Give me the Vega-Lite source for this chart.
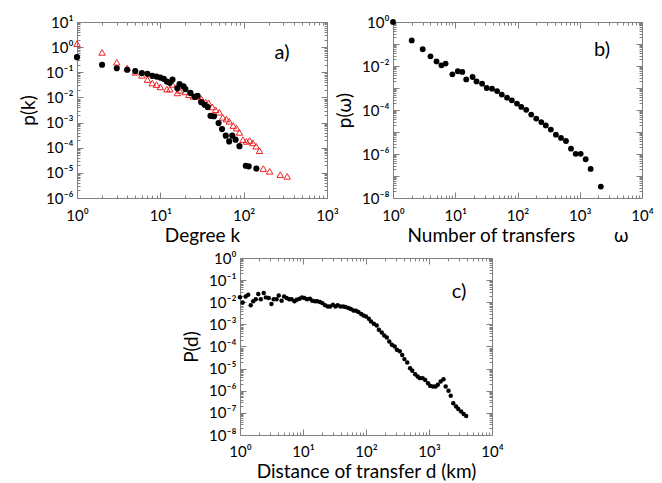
{
  "$schema": "https://vega.github.io/schema/vega-lite/v6.json",
  "padding": {"left": 19, "top": 14, "right": 0, "bottom": 0},
  "config": {
    "font": "Lato",
    "view": {"stroke": "#808080", "strokeWidth": 1},
    "axis": {"grid": false, "domain": false, "tickColor": "#808080", "tickWidth": 1, "labelFont": "Lato", "labelFontSize": 15, "labelColor": "#000000", "titleFont": "Lato", "titleFontSize": 19, "titleFontWeight": "normal", "titleColor": "#000000", "labelOverlap": false, "labelFlush": false, "labelBound": false}
  },
  "datasets": {
    "a": [
      {"k": 1, "p": 1.38, "s": "red"}, {"k": 2, "p": 0.617, "s": "red"}, {"k": 3, "p": 0.251, "s": "red"}, {"k": 4, "p": 0.148, "s": "red"}, {"k": 5, "p": 0.1, "s": "red"}, {"k": 6, "p": 0.0759, "s": "red"}, {"k": 7, "p": 0.0513, "s": "red"}, {"k": 8, "p": 0.0372, "s": "red"}, {"k": 9, "p": 0.0324, "s": "red"}, {"k": 10, "p": 0.0263, "s": "red"}, {"k": 12, "p": 0.0214, "s": "red"}, {"k": 13, "p": 0.0214, "s": "red"}, {"k": 14, "p": 0.0331, "s": "red"}, {"k": 16, "p": 0.0151, "s": "red"}, {"k": 17, "p": 0.0191, "s": "red"}, {"k": 20, "p": 0.0166, "s": "red"}, {"k": 22, "p": 0.0129, "s": "red"}, {"k": 25, "p": 0.011, "s": "red"}, {"k": 28, "p": 0.011, "s": "red"}, {"k": 31, "p": 0.00891, "s": "red"}, {"k": 35, "p": 0.00646, "s": "red"}, {"k": 38, "p": 0.00603, "s": "red"}, {"k": 42, "p": 0.00417, "s": "red"}, {"k": 46, "p": 0.00324, "s": "red"}, {"k": 51, "p": 0.00257, "s": "red"}, {"k": 56, "p": 0.00162, "s": "red"}, {"k": 62, "p": 0.00138, "s": "red"}, {"k": 67, "p": 0.00112, "s": "red"}, {"k": 75, "p": 0.000759, "s": "red"}, {"k": 82, "p": 0.000603, "s": "red"}, {"k": 89, "p": 0.000407, "s": "red"}, {"k": 98, "p": 0.000209, "s": "red"}, {"k": 108, "p": 0.000178, "s": "red"}, {"k": 118, "p": 0.000195, "s": "red"}, {"k": 129, "p": 0.000155, "s": "red"}, {"k": 141, "p": 0.000115, "s": "red"}, {"k": 155, "p": 0.0000759, "s": "red"}, {"k": 172, "p": 0.0000148, "s": "red"}, {"k": 205, "p": 0.0000115, "s": "red"}, {"k": 275, "p": 0.00000851, "s": "red"}, {"k": 333, "p": 0.00000724, "s": "red"},
      {"k": 1, "p": 0.398, "s": "black"}, {"k": 2, "p": 0.2, "s": "black"}, {"k": 3, "p": 0.145, "s": "black"}, {"k": 4, "p": 0.126, "s": "black"}, {"k": 5, "p": 0.112, "s": "black"}, {"k": 6, "p": 0.0933, "s": "black"}, {"k": 7, "p": 0.0871, "s": "black"}, {"k": 8, "p": 0.0724, "s": "black"}, {"k": 9, "p": 0.0676, "s": "black"}, {"k": 10, "p": 0.0617, "s": "black"}, {"k": 11, "p": 0.055, "s": "black"}, {"k": 12, "p": 0.0427, "s": "black"}, {"k": 13, "p": 0.038, "s": "black"}, {"k": 14, "p": 0.0513, "s": "black"}, {"k": 16, "p": 0.0234, "s": "black"}, {"k": 17, "p": 0.0339, "s": "black"}, {"k": 19, "p": 0.0275, "s": "black"}, {"k": 20, "p": 0.0214, "s": "black"}, {"k": 23, "p": 0.0151, "s": "black"}, {"k": 26, "p": 0.0105, "s": "black"}, {"k": 28, "p": 0.0117, "s": "black"}, {"k": 31, "p": 0.00646, "s": "black"}, {"k": 34, "p": 0.00513, "s": "black"}, {"k": 37, "p": 0.00417, "s": "black"}, {"k": 40, "p": 0.00186, "s": "black"}, {"k": 44, "p": 0.00178, "s": "black"}, {"k": 50, "p": 0.000955, "s": "black"}, {"k": 55, "p": 0.00055, "s": "black"}, {"k": 61, "p": 0.000302, "s": "black"}, {"k": 67, "p": 0.000178, "s": "black"}, {"k": 73, "p": 0.000302, "s": "black"}, {"k": 80, "p": 0.000209, "s": "black"}, {"k": 89, "p": 0.000115, "s": "black"}, {"k": 106, "p": 0.0000191, "s": "black"}, {"k": 115, "p": 0.0000182, "s": "black"}, {"k": 142, "p": 0.0000148, "s": "black"}
    ],
    "b": [
      {"w": 1, "p": 1}, {"w": 2, "p": 0.145}, {"w": 3, "p": 0.0575}, {"w": 4, "p": 0.0275}, {"w": 5, "p": 0.0162}, {"w": 6, "p": 0.0107}, {"w": 7, "p": 0.0129}, {"w": 9, "p": 0.00417}, {"w": 11, "p": 0.00575}, {"w": 13, "p": 0.00537}, {"w": 15, "p": 0.00245}, {"w": 19, "p": 0.00316}, {"w": 22, "p": 0.002}, {"w": 27, "p": 0.00158}, {"w": 32, "p": 0.001}, {"w": 39, "p": 0.000933}, {"w": 47, "p": 0.000724}, {"w": 56, "p": 0.000501}, {"w": 68, "p": 0.000363}, {"w": 81, "p": 0.000275}, {"w": 98, "p": 0.000195}, {"w": 115, "p": 0.000138}, {"w": 138, "p": 0.000102}, {"w": 166, "p": 0.0000617}, {"w": 200, "p": 0.0000407}, {"w": 241, "p": 0.0000282}, {"w": 285, "p": 0.00002}, {"w": 343, "p": 0.0000129}, {"w": 414, "p": 0.00000759}, {"w": 500, "p": 0.00000537}, {"w": 601, "p": 0.00000389}, {"w": 723, "p": 0.00000174}, {"w": 861, "p": 0.00000102}, {"w": 1036, "p": 0.00000102}, {"w": 1246, "p": 0.000000575}, {"w": 1497, "p": 0.000000209}, {"w": 2180, "p": 0.0000000331}
    ],
    "c": [
      {"d": 1.0, "P": 0.017}, {"d": 1.1, "P": 0.00977}, {"d": 1.23, "P": 0.0182}, {"d": 1.35, "P": 0.0219}, {"d": 1.48, "P": 0.00724}, {"d": 1.62, "P": 0.011}, {"d": 1.78, "P": 0.0138}, {"d": 1.95, "P": 0.0234}, {"d": 2.14, "P": 0.0138}, {"d": 2.38, "P": 0.0263}, {"d": 2.57, "P": 0.0166}, {"d": 2.86, "P": 0.0155}, {"d": 3.16, "P": 0.00832}, {"d": 3.43, "P": 0.0138}, {"d": 3.8, "P": 0.0138}, {"d": 4.12, "P": 0.0204}, {"d": 4.57, "P": 0.0117}, {"d": 5.01, "P": 0.0182}, {"d": 5.5, "P": 0.0155}, {"d": 6.03, "P": 0.0138}, {"d": 6.61, "P": 0.0138}, {"d": 7.33, "P": 0.011}, {"d": 7.94, "P": 0.0129}, {"d": 8.81, "P": 0.0145}, {"d": 9.66, "P": 0.0166}, {"d": 10.5, "P": 0.0155}, {"d": 11.6, "P": 0.0138}, {"d": 12.9, "P": 0.0145}, {"d": 14.0, "P": 0.0117}, {"d": 15.5, "P": 0.011}, {"d": 16.8, "P": 0.011}, {"d": 18.6, "P": 0.0102}, {"d": 20.4, "P": 0.00912}, {"d": 22.4, "P": 0.00724}, {"d": 24.8, "P": 0.00646}, {"d": 26.9, "P": 0.00646}, {"d": 29.9, "P": 0.00776}, {"d": 32.7, "P": 0.00646}, {"d": 35.5, "P": 0.00724}, {"d": 39.4, "P": 0.00646}, {"d": 43.7, "P": 0.00646}, {"d": 47.3, "P": 0.00603}, {"d": 52.5, "P": 0.0055}, {"d": 57.5, "P": 0.0049}, {"d": 63.1, "P": 0.00427}, {"d": 69.2, "P": 0.00417}, {"d": 75.9, "P": 0.00363}, {"d": 84.1, "P": 0.00295}, {"d": 91.2, "P": 0.00251}, {"d": 100, "P": 0.00229}, {"d": 111, "P": 0.00178}, {"d": 120, "P": 0.00135}, {"d": 133, "P": 0.00107}, {"d": 148, "P": 0.000891}, {"d": 160, "P": 0.000575}, {"d": 178, "P": 0.000427}, {"d": 195, "P": 0.000316}, {"d": 214, "P": 0.000257}, {"d": 234, "P": 0.00017}, {"d": 257, "P": 0.00012}, {"d": 285, "P": 0.0001}, {"d": 309, "P": 0.0000708}, {"d": 343, "P": 0.0000603}, {"d": 376, "P": 0.0000417}, {"d": 407, "P": 0.0000269}, {"d": 452, "P": 0.0000191}, {"d": 501, "P": 0.0000105}, {"d": 543, "P": 0.00000794}, {"d": 603, "P": 0.00000562}, {"d": 661, "P": 0.00000437}, {"d": 719, "P": 0.00000372}, {"d": 794, "P": 0.00000372}, {"d": 871, "P": 0.00000309}, {"d": 966, "P": 0.00000219}, {"d": 1047, "P": 0.00000166}, {"d": 1161, "P": 0.00000155}, {"d": 1274, "P": 0.00000155}, {"d": 1380, "P": 0.00000186}, {"d": 1531, "P": 0.00000263}, {"d": 1698, "P": 0.00000331}, {"d": 1841, "P": 0.00000155}, {"d": 2042, "P": 0.000001}, {"d": 2213, "P": 0.000000589}, {"d": 2427, "P": 0.000000275}, {"d": 2692, "P": 0.000000195}, {"d": 2917, "P": 0.000000148}, {"d": 3236, "P": 0.000000115}, {"d": 3548, "P": 0.0000000891}, {"d": 3890, "P": 0.0000000724}
    ]
  },
  "bounds": "flush",
  "spacing": 236,
  "vconcat": [
    {
      "bounds": "flush",
      "spacing": 66,
      "hconcat": [
        {
          "width": 250, "height": 176,
          "resolve": {"axis": {"x": "independent", "y": "independent"}},
          "layer": [
            {
              "data": {"name": "a"},
              "transform": [{"filter": "datum.s == 'red'"}],
              "mark": {"type": "point", "shape": "triangle-up", "filled": false, "stroke": "#ee2222", "strokeWidth": 1, "size": 42, "opacity": 1},
              "encoding": {
                "x": {"field": "k", "type": "quantitative", "scale": {"type": "log", "domain": [1, 1000], "nice": false},
                  "axis": {"orient": "bottom", "title": "Degree k", "titlePadding": 0, "labelPadding": 16,
                    "values": [1,2,3,4,5,6,7,8,9,10,20,30,40,50,60,70,80,90,100,200,300,400,500,600,700,800,900,1000],
                    "labelExpr": "abs(log(datum.value)/LN10 - round(log(datum.value)/LN10)) < 0.01 ? '10' + ['⁻⁸','⁻⁷','⁻⁶','⁻⁵','⁻⁴','⁻³','⁻²','⁻¹','⁰','¹','²','³','⁴'][round(log(datum.value)/LN10)+8] : ''",
                    "tickSize": {"condition": {"test": "abs(log(datum.value)/LN10 - round(log(datum.value)/LN10)) < 0.01", "value": -6}, "value": -3}}},
                "y": {"field": "p", "type": "quantitative", "scale": {"type": "log", "domain": [0.000001, 10], "nice": false},
                  "axis": {"orient": "left", "title": "p(k)", "titlePadding": 7, "labelPadding": 10,
                    "values": [1e-6,2e-6,3e-6,4e-6,5e-6,6e-6,7e-6,8e-6,9e-6,1e-5,2e-5,3e-5,4e-5,5e-5,6e-5,7e-5,8e-5,9e-5,1e-4,2e-4,3e-4,4e-4,5e-4,6e-4,7e-4,8e-4,9e-4,0.001,0.002,0.003,0.004,0.005,0.006,0.007,0.008,0.009,0.01,0.02,0.03,0.04,0.05,0.06,0.07,0.08,0.09,0.1,0.2,0.3,0.4,0.5,0.6,0.7,0.8,0.9,1,2,3,4,5,6,7,8,9,10],
                    "labelExpr": "abs(log(datum.value)/LN10 - round(log(datum.value)/LN10)) < 0.01 ? '10' + ['⁻⁸','⁻⁷','⁻⁶','⁻⁵','⁻⁴','⁻³','⁻²','⁻¹','⁰','¹','²','³','⁴'][round(log(datum.value)/LN10)+8] : ''",
                    "tickSize": {"condition": {"test": "abs(log(datum.value)/LN10 - round(log(datum.value)/LN10)) < 0.01", "value": -6}, "value": -3}}}
              }
            },
            {
              "data": {"name": "a"},
              "transform": [{"filter": "datum.s == 'black'"}],
              "mark": {"type": "circle", "color": "#000000", "size": 38, "opacity": 1},
              "encoding": {
                "x": {"field": "k", "type": "quantitative", "scale": {"type": "log", "domain": [1, 1000], "nice": false}, "axis": null},
                "y": {"field": "p", "type": "quantitative", "scale": {"type": "log", "domain": [0.000001, 10], "nice": false}, "axis": null}
              }
            },
            {
              "data": {"values": [{"t": "a)", "k": 289, "p": 0.6}]},
              "mark": {"type": "text", "font": "Lato", "fontSize": 20, "color": "#000000"},
              "encoding": {
                "text": {"field": "t"},
                "x": {"field": "k", "type": "quantitative", "scale": {"type": "log", "domain": [1, 1000], "nice": false},
                  "axis": {"orient": "top", "title": null, "labels": false,
                    "values": [1,2,3,4,5,6,7,8,9,10,20,30,40,50,60,70,80,90,100,200,300,400,500,600,700,800,900,1000],
                    "tickSize": {"condition": {"test": "abs(log(datum.value)/LN10 - round(log(datum.value)/LN10)) < 0.01", "value": -6}, "value": -3}}},
                "y": {"field": "p", "type": "quantitative", "scale": {"type": "log", "domain": [0.000001, 10], "nice": false},
                  "axis": {"orient": "right", "title": null, "labels": false,
                    "values": [1e-6,2e-6,3e-6,4e-6,5e-6,6e-6,7e-6,8e-6,9e-6,1e-5,2e-5,3e-5,4e-5,5e-5,6e-5,7e-5,8e-5,9e-5,1e-4,2e-4,3e-4,4e-4,5e-4,6e-4,7e-4,8e-4,9e-4,0.001,0.002,0.003,0.004,0.005,0.006,0.007,0.008,0.009,0.01,0.02,0.03,0.04,0.05,0.06,0.07,0.08,0.09,0.1,0.2,0.3,0.4,0.5,0.6,0.7,0.8,0.9,1,2,3,4,5,6,7,8,9,10],
                    "tickSize": {"condition": {"test": "abs(log(datum.value)/LN10 - round(log(datum.value)/LN10)) < 0.01", "value": -6}, "value": -3}}}
              }
            }
          ]
        },
        {
          "width": 249, "height": 176,
          "resolve": {"axis": {"x": "independent", "y": "independent"}},
          "layer": [
            {
              "data": {"name": "b"},
              "mark": {"type": "circle", "color": "#000000", "size": 34, "opacity": 1},
              "encoding": {
                "x": {"field": "w", "type": "quantitative", "scale": {"type": "log", "domain": [1, 10000], "nice": false},
                  "axis": {"orient": "bottom", "title": "Number of transfers\u00a0\u00a0\u00a0\u00a0\u00a0\u00a0\u00a0\u00a0ω", "titlePadding": 0, "labelPadding": 16,
                    "values": [1,2,3,4,5,6,7,8,9,10,20,30,40,50,60,70,80,90,100,200,300,400,500,600,700,800,900,1000,2000,3000,4000,5000,6000,7000,8000,9000,10000],
                    "labelExpr": "abs(log(datum.value)/LN10 - round(log(datum.value)/LN10)) < 0.01 ? '10' + ['⁻⁸','⁻⁷','⁻⁶','⁻⁵','⁻⁴','⁻³','⁻²','⁻¹','⁰','¹','²','³','⁴'][round(log(datum.value)/LN10)+8] : ''",
                    "tickSize": {"condition": {"test": "abs(log(datum.value)/LN10 - round(log(datum.value)/LN10)) < 0.01", "value": -6}, "value": -3}}},
                "y": {"field": "p", "type": "quantitative", "scale": {"type": "log", "domain": [1e-8, 1], "nice": false},
                  "axis": {"orient": "left", "title": "p(ω)", "titlePadding": 7, "labelPadding": 10,
                    "values": [1e-8,2e-8,3e-8,4e-8,5e-8,6e-8,7e-8,8e-8,9e-8,1e-7,2e-7,3e-7,4e-7,5e-7,6e-7,7e-7,8e-7,9e-7,1e-6,2e-6,3e-6,4e-6,5e-6,6e-6,7e-6,8e-6,9e-6,1e-5,2e-5,3e-5,4e-5,5e-5,6e-5,7e-5,8e-5,9e-5,1e-4,2e-4,3e-4,4e-4,5e-4,6e-4,7e-4,8e-4,9e-4,0.001,0.002,0.003,0.004,0.005,0.006,0.007,0.008,0.009,0.01,0.02,0.03,0.04,0.05,0.06,0.07,0.08,0.09,0.1,0.2,0.3,0.4,0.5,0.6,0.7,0.8,0.9,1],
                    "labelExpr": "abs(log(datum.value)/LN10 - round(log(datum.value)/LN10)) < 0.01 && round(log(datum.value)/LN10) % 2 == 0 ? '10' + ['⁻⁸','⁻⁷','⁻⁶','⁻⁵','⁻⁴','⁻³','⁻²','⁻¹','⁰','¹','²','³','⁴'][round(log(datum.value)/LN10)+8] : ''",
                    "tickSize": {"condition": {"test": "abs(log(datum.value)/LN10 - round(log(datum.value)/LN10)) < 0.01", "value": -6}, "value": -3}}}
              }
            },
            {
              "data": {"values": [{"t": "b)", "w": 2277, "p": 0.0555}]},
              "mark": {"type": "text", "font": "Lato", "fontSize": 20, "color": "#000000"},
              "encoding": {
                "text": {"field": "t"},
                "x": {"field": "w", "type": "quantitative", "scale": {"type": "log", "domain": [1, 10000], "nice": false},
                  "axis": {"orient": "top", "title": null, "labels": false,
                    "values": [1,2,3,4,5,6,7,8,9,10,20,30,40,50,60,70,80,90,100,200,300,400,500,600,700,800,900,1000,2000,3000,4000,5000,6000,7000,8000,9000,10000],
                    "tickSize": {"condition": {"test": "abs(log(datum.value)/LN10 - round(log(datum.value)/LN10)) < 0.01", "value": -6}, "value": -3}}},
                "y": {"field": "p", "type": "quantitative", "scale": {"type": "log", "domain": [1e-8, 1], "nice": false},
                  "axis": {"orient": "right", "title": null, "labels": false,
                    "values": [1e-8,2e-8,3e-8,4e-8,5e-8,6e-8,7e-8,8e-8,9e-8,1e-7,2e-7,3e-7,4e-7,5e-7,6e-7,7e-7,8e-7,9e-7,1e-6,2e-6,3e-6,4e-6,5e-6,6e-6,7e-6,8e-6,9e-6,1e-5,2e-5,3e-5,4e-5,5e-5,6e-5,7e-5,8e-5,9e-5,1e-4,2e-4,3e-4,4e-4,5e-4,6e-4,7e-4,8e-4,9e-4,0.001,0.002,0.003,0.004,0.005,0.006,0.007,0.008,0.009,0.01,0.02,0.03,0.04,0.05,0.06,0.07,0.08,0.09,0.1,0.2,0.3,0.4,0.5,0.6,0.7,0.8,0.9,1],
                    "tickSize": {"condition": {"test": "abs(log(datum.value)/LN10 - round(log(datum.value)/LN10)) < 0.01", "value": -6}, "value": -3}}}
              }
            }
          ]
        }
      ]
    },
    {
      "bounds": "flush",
      "spacing": 0,
      "hconcat": [
        {
          "width": 163, "height": 177,
          "view": {"stroke": null},
          "data": {"values": [{"z": 0}]},
          "mark": {"type": "point", "opacity": 0},
          "encoding": {}
        },
        {
          "width": 252, "height": 177,
          "resolve": {"axis": {"x": "independent", "y": "independent"}},
          "layer": [
            {
              "data": {"name": "c"},
              "mark": {"type": "circle", "color": "#000000", "size": 20, "opacity": 1},
              "encoding": {
                "x": {"field": "d", "type": "quantitative", "scale": {"type": "log", "domain": [1, 10000], "nice": false},
                  "axis": {"orient": "bottom", "title": "Distance of transfer d (km)", "titlePadding": 0, "labelPadding": 15,
                    "values": [1,2,3,4,5,6,7,8,9,10,20,30,40,50,60,70,80,90,100,200,300,400,500,600,700,800,900,1000,2000,3000,4000,5000,6000,7000,8000,9000,10000],
                    "labelExpr": "abs(log(datum.value)/LN10 - round(log(datum.value)/LN10)) < 0.01 ? '10' + ['⁻⁸','⁻⁷','⁻⁶','⁻⁵','⁻⁴','⁻³','⁻²','⁻¹','⁰','¹','²','³','⁴'][round(log(datum.value)/LN10)+8] : ''",
                    "tickSize": {"condition": {"test": "abs(log(datum.value)/LN10 - round(log(datum.value)/LN10)) < 0.01", "value": -6}, "value": -3}}},
                "y": {"field": "P", "type": "quantitative", "scale": {"type": "log", "domain": [1e-8, 1], "nice": false},
                  "axis": {"orient": "left", "title": "P(d)", "titlePadding": 7, "labelPadding": 10,
                    "values": [1e-8,2e-8,3e-8,4e-8,5e-8,6e-8,7e-8,8e-8,9e-8,1e-7,2e-7,3e-7,4e-7,5e-7,6e-7,7e-7,8e-7,9e-7,1e-6,2e-6,3e-6,4e-6,5e-6,6e-6,7e-6,8e-6,9e-6,1e-5,2e-5,3e-5,4e-5,5e-5,6e-5,7e-5,8e-5,9e-5,1e-4,2e-4,3e-4,4e-4,5e-4,6e-4,7e-4,8e-4,9e-4,0.001,0.002,0.003,0.004,0.005,0.006,0.007,0.008,0.009,0.01,0.02,0.03,0.04,0.05,0.06,0.07,0.08,0.09,0.1,0.2,0.3,0.4,0.5,0.6,0.7,0.8,0.9,1],
                    "labelExpr": "abs(log(datum.value)/LN10 - round(log(datum.value)/LN10)) < 0.01 ? '10' + ['⁻⁸','⁻⁷','⁻⁶','⁻⁵','⁻⁴','⁻³','⁻²','⁻¹','⁰','¹','²','³','⁴'][round(log(datum.value)/LN10)+8] : ''",
                    "tickSize": {"condition": {"test": "abs(log(datum.value)/LN10 - round(log(datum.value)/LN10)) < 0.01", "value": -6}, "value": -3}}}
              }
            },
            {
              "data": {"values": [{"t": "c)", "d": 2993, "P": 0.0289}]},
              "mark": {"type": "text", "font": "Lato", "fontSize": 20, "color": "#000000"},
              "encoding": {
                "text": {"field": "t"},
                "x": {"field": "d", "type": "quantitative", "scale": {"type": "log", "domain": [1, 10000], "nice": false},
                  "axis": {"orient": "top", "title": null, "labels": false,
                    "values": [1,2,3,4,5,6,7,8,9,10,20,30,40,50,60,70,80,90,100,200,300,400,500,600,700,800,900,1000,2000,3000,4000,5000,6000,7000,8000,9000,10000],
                    "tickSize": {"condition": {"test": "abs(log(datum.value)/LN10 - round(log(datum.value)/LN10)) < 0.01", "value": -6}, "value": -3}}},
                "y": {"field": "P", "type": "quantitative", "scale": {"type": "log", "domain": [1e-8, 1], "nice": false},
                  "axis": {"orient": "right", "title": null, "labels": false,
                    "values": [1e-8,2e-8,3e-8,4e-8,5e-8,6e-8,7e-8,8e-8,9e-8,1e-7,2e-7,3e-7,4e-7,5e-7,6e-7,7e-7,8e-7,9e-7,1e-6,2e-6,3e-6,4e-6,5e-6,6e-6,7e-6,8e-6,9e-6,1e-5,2e-5,3e-5,4e-5,5e-5,6e-5,7e-5,8e-5,9e-5,1e-4,2e-4,3e-4,4e-4,5e-4,6e-4,7e-4,8e-4,9e-4,0.001,0.002,0.003,0.004,0.005,0.006,0.007,0.008,0.009,0.01,0.02,0.03,0.04,0.05,0.06,0.07,0.08,0.09,0.1,0.2,0.3,0.4,0.5,0.6,0.7,0.8,0.9,1],
                    "tickSize": {"condition": {"test": "abs(log(datum.value)/LN10 - round(log(datum.value)/LN10)) < 0.01", "value": -6}, "value": -3}}}
              }
            }
          ]
        }
      ]
    }
  ]
}
